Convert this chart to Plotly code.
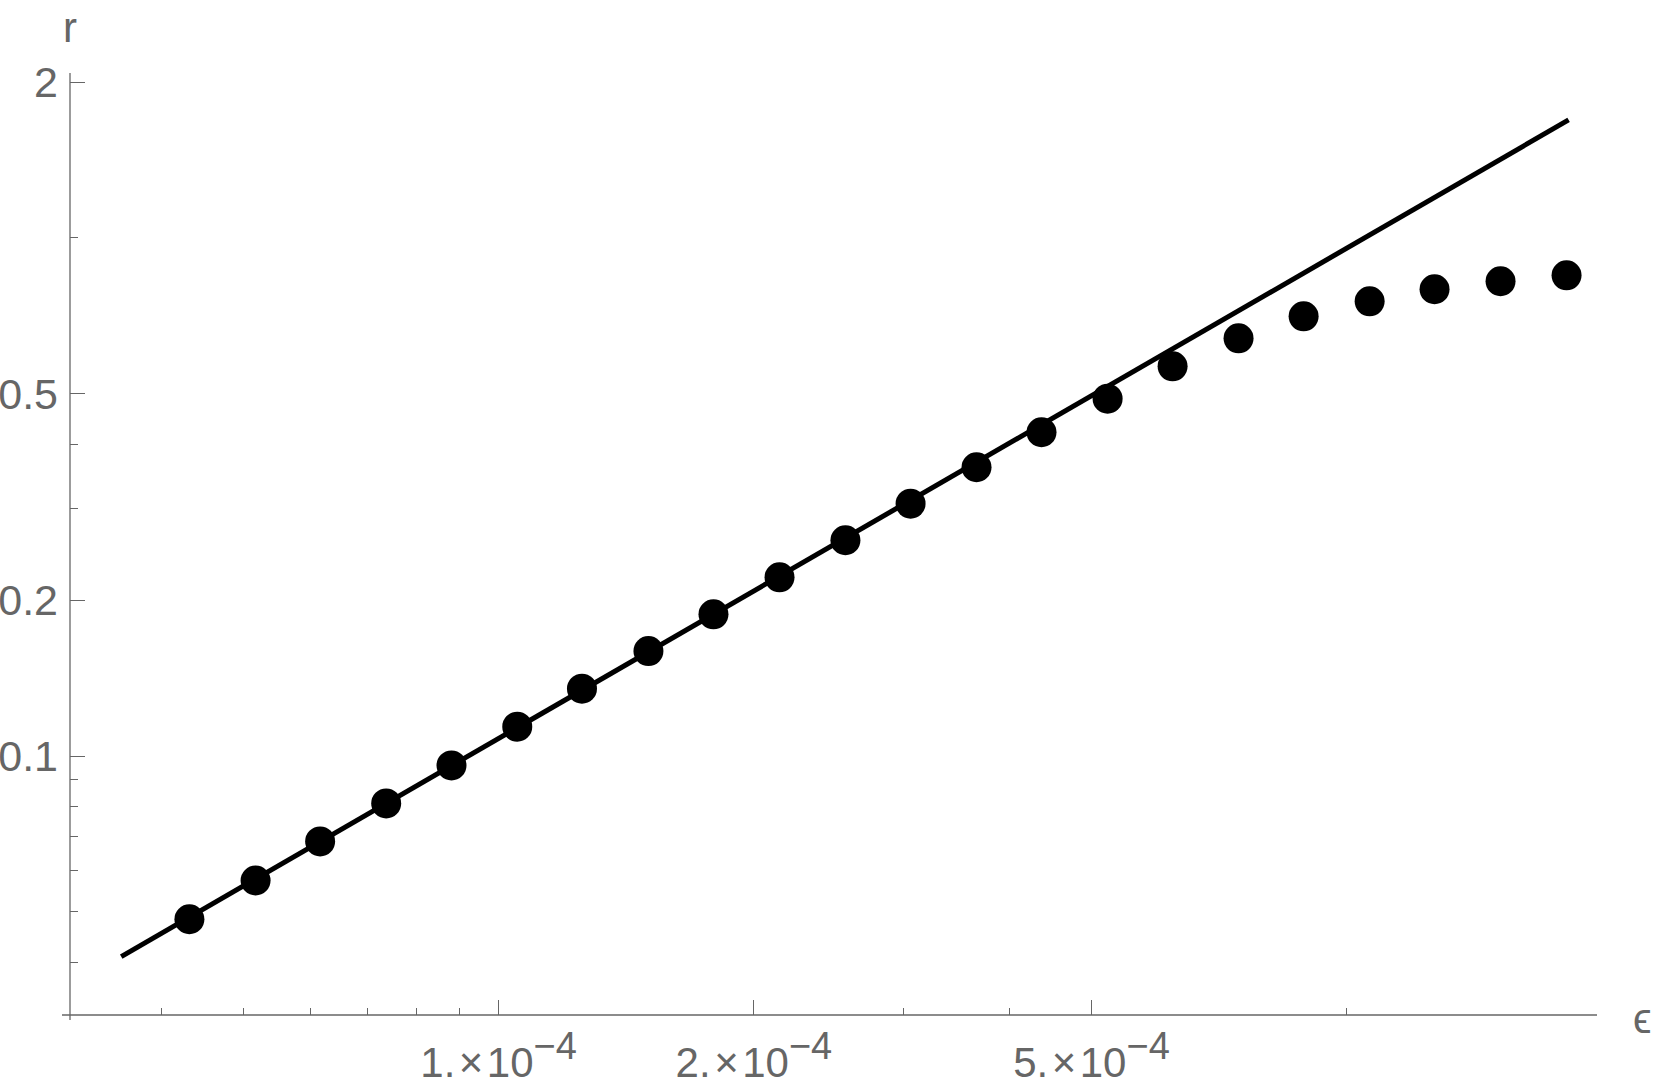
import plotly.graph_objects as go

# ---- data ----
eps = [4.32e-5, 5.17e-5, 6.16e-5, 7.37e-5, 8.80e-5, 1.052e-4, 1.254e-4, 1.502e-4,
       1.792e-4, 2.144e-4, 2.564e-4, 3.06e-4, 3.660e-4, 4.366e-4, 5.224e-4, 6.232e-4,
       7.454e-4, 8.894e-4, 1.064e-3, 1.269e-3, 1.518e-3, 1.816e-3]
r_vals = [0.0484, 0.0575, 0.0684, 0.0810, 0.0959, 0.1139, 0.1349, 0.1594,
          0.1877, 0.2213, 0.2609, 0.307, 0.3609, 0.4217, 0.4896, 0.5652,
          0.6403, 0.7061, 0.7545, 0.7962, 0.8250, 0.8472]

fit_eps = [3.59e-5, 1.826e-3]
fit_r = [0.0410, 1.690]

x_major = [1e-4, 2e-4, 5e-4]
x_major_text = ["1.\u200a×\u200a10<sup><span style='font-size:38px'>−4</span></sup>",
                "2.\u200a×\u200a10<sup><span style='font-size:38px'>−4</span></sup>",
                "5.\u200a×\u200a10<sup><span style='font-size:38px'>−4</span></sup>"]
x_minor = [4e-5, 5e-5, 6e-5, 7e-5, 8e-5, 9e-5, 3e-4, 4e-4, 1e-3]

y_major = [0.1, 0.2, 0.5, 2]
y_major_text = ["0.1", "0.2", "0.5", "2"]
y_minor = [0.04, 0.05, 0.06, 0.07, 0.08, 0.09, 0.3, 0.4, 1]

GRAY = "#666666"
FONT = "Liberation Sans, Arial, sans-serif"

fig = go.Figure()
fig.add_trace(go.Scatter(x=fit_eps, y=fit_r, mode="lines",
                         line=dict(color="black", width=5), showlegend=False))
fig.add_trace(go.Scatter(x=eps, y=r_vals, mode="markers",
                         marker=dict(color="black", size=30, line=dict(width=0)),
                         showlegend=False))

W, H = 1654, 1085
ml, mr, mt, mb = 70, 57, 73, 70
pw, ph = W - ml - mr, H - mt - mb

fig.update_layout(
    width=W, height=H,
    margin=dict(l=ml, r=mr, t=mt, b=mb, autoexpand=False),
    paper_bgcolor="white", plot_bgcolor="white",
    font=dict(family=FONT, size=42, color=GRAY),
    xaxis=dict(type="log", range=[-4.5053, -2.705], showgrid=False, zeroline=False,
               showline=False, automargin=False,
               tickmode="array", tickvals=x_major, ticktext=x_major_text,
               ticks="inside", ticklen=15, tickwidth=1, tickcolor=GRAY,
               tickfont=dict(size=42, color=GRAY, family=FONT),
               ticklabelstandoff=19,
               minor=dict(tickvals=x_minor, ticks="inside", ticklen=7, tickwidth=1,
                          tickcolor=GRAY, showgrid=False)),
    yaxis=dict(type="log", range=[-1.5, 0.3185], showgrid=False, zeroline=False,
               showline=False, automargin=False,
               tickmode="array", tickvals=y_major, ticktext=y_major_text,
               ticks="inside", ticklen=15, tickwidth=1, tickcolor=GRAY,
               tickfont=dict(size=43, color=GRAY, family=FONT),
               ticklabelstandoff=11,
               minor=dict(tickvals=y_minor, ticks="inside", ticklen=8, tickwidth=1,
                          tickcolor=GRAY, showgrid=False)),
    shapes=[
        dict(type="line", xref="paper", yref="paper", x0=-8 / pw, x1=1.0, y0=0, y1=0,
             line=dict(color=GRAY, width=1.3)),
        dict(type="line", xref="paper", yref="paper", x0=0, x1=0, y0=-5 / ph, y1=1.0,
             line=dict(color=GRAY, width=1.3)),
    ],
    annotations=[
        dict(text="r", xref="paper", yref="paper", x=0, y=(H - mb - 27) / ph,
             xanchor="center", yanchor="middle", showarrow=False,
             font=dict(size=42, color=GRAY, family=FONT)),
        dict(text="ϵ", xref="paper", yref="paper", x=(1642 - ml) / pw, y=(H - mb - 1018) / ph,
             xanchor="center", yanchor="middle", showarrow=False,
             font=dict(size=42, color=GRAY, family=FONT)),
    ],
)

fig.write_html(
    "out.html",
    config={"displayModeBar": False},
    post_script="document.body.style.margin='0';document.body.style.overflow='hidden';",
)
